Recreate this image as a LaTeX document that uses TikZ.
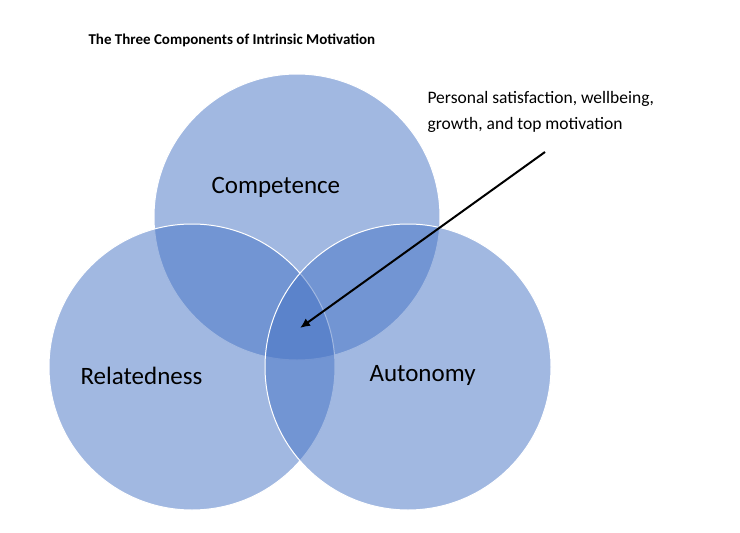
\documentclass[tikz,border=0pt]{standalone}
\usetikzlibrary{arrows.meta}
\usepackage{fontspec}
\setmainfont{Carlito}
\definecolor{cblue}{HTML}{4472C4}
\begin{document}
\begin{tikzpicture}[x=1pt,y=-1pt,
  circ/.style={fill=cblue,fill opacity=0.5,draw=white,line width=1pt},
  lab/.style={font=\fontsize{25}{30}\selectfont,anchor=west}]
\useasboundingbox (0,0) rectangle (740,533);
\node[font=\bfseries\fontsize{15}{18}\selectfont,anchor=west] (title) at (85,40) {The Three Components of Intrinsic Motivation};
\draw[circ] (297,217) circle (143);
\draw[circ] (192,367) circle (143);
\draw[circ] (408,367) circle (143);
\node[lab] (comp) at (208,187) {Competence};
\node[lab] (rel) at (77,376) {Relatedness};
\node[lab] (aut) at (366,375) {Autonomy};
\node[font=\fontsize{17.5}{26}\selectfont,align=left,anchor=north west] (note) at (424,88) {Personal satisfaction, wellbeing,\\growth, and top motivation};
\coordinate (c) at (300,328);
\coordinate (s) at (545,152);
\draw[line width=2pt,-{Latex[length=10pt,width=9pt]}] (s) -- (c);
\end{tikzpicture}
\end{document}
